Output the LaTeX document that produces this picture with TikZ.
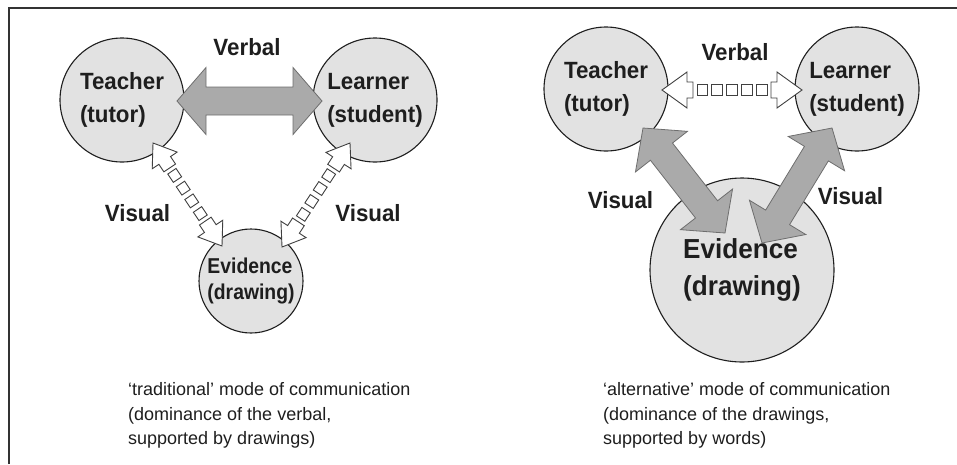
\documentclass[tikz,border=0pt]{standalone}
\usepackage{fontspec}
\setmainfont{Liberation Sans}
\newfontfamily\condsans[FakeStretch=0.95]{Liberation Sans}
\newfontfamily\condsansB[FakeStretch=0.9]{Liberation Sans}
\usetikzlibrary{calc}
\definecolor{circfill}{HTML}{E2E2E2}
\definecolor{arrfill}{HTML}{AAAAAA}
\definecolor{arrline}{HTML}{6E6E6E}
\definecolor{inkc}{HTML}{1E1E1E}
\definecolor{framec}{HTML}{333333}

\newcommand\arrowgeom[2]{%
  \pgfpointdiff{\pgfpointanchor{#1}{center}}{\pgfpointanchor{#2}{center}}%
  \pgfgetlastxy{\myDX}{\myDY}%
  \pgfmathsetmacro\myang{atan2(\myDY,\myDX)}%
  \pgfmathsetmacro\mylen{veclen(\myDX,\myDY)}%
}
% gray double block arrow: from, to, head length, head half-width, shaft half-width
\newcommand\grayarrow[5]{%
  \arrowgeom{#1}{#2}%
  \begin{scope}[shift={(#1)}, rotate=\myang]
    \draw[grayarr] (0,0) -- (#3,#4) -- (#3,#5) -- (\mylen-#3,#5) -- (\mylen-#3,#4)
      -- (\mylen,0) -- (\mylen-#3,-#4) -- (\mylen-#3,-#5) -- (#3,-#5) -- (#3,-#4) -- cycle;
  \end{scope}}
% hollow arrow with square shaft: from, to, hl, hw, stub half-width, stub length, n squares, square size
\newcommand\squarearrow[8]{%
  \arrowgeom{#1}{#2}%
  \begin{scope}[shift={(#1)}, rotate=\myang]
    \draw[hollow] (0,0) -- (#3,#4) -- (#3,#5) -- (#3+#6,#5) -- (#3+#6,-#5) -- (#3,-#5) -- (#3,-#4) -- cycle;
    \draw[hollow] (\mylen,0) -- (\mylen-#3,#4) -- (\mylen-#3,#5) -- (\mylen-#3-#6,#5)
      -- (\mylen-#3-#6,-#5) -- (\mylen-#3,-#5) -- (\mylen-#3,-#4) -- cycle;
    \pgfmathsetmacro\sqstart{#3+#6+4}%
    \pgfmathsetmacro\sqend{\mylen-#3-#6-4}%
    \pgfmathsetmacro\sqpitch{(\sqend-\sqstart-#8)/(#7-1)}%
    \foreach \i in {1,...,#7} {
      \draw[hollow] ({\sqstart+(\i-1)*\sqpitch},{-#8/2}) rectangle ++(#8,#8);
    }
  \end{scope}}

\tikzset{
  circ/.style={circle, draw=inkc, line width=1.1pt, fill=circfill, inner sep=0pt,
    align=left, text=inkc, font=\condsans\bfseries\fontsize{23.5}{33}\selectfont},
  lbl/.style={anchor=base, text=inkc, inner sep=0pt, font=\condsans\bfseries\fontsize{23.5}{27}\selectfont},
  captxt/.style={anchor=north west, align=left, inner sep=0pt, text=inkc,
    font=\fontsize{18}{24.5}\selectfont},
  grayarr/.style={fill=arrfill, draw=arrline, line width=0.8pt, line join=miter},
  hollow/.style={fill=white, draw=inkc!85, line width=0.9pt, line join=miter},
}

\begin{document}
\begin{tikzpicture}[x=1pt, y=-1pt]
\useasboundingbox (0,0) rectangle (957,464);
\draw[framec, line width=1.5pt] (9,464) -- (9,8) -- (957,8);

% ---------- left panel ----------
\node[circ, minimum size=124pt] (T1) at (122,100) {Teacher\\(tutor)};
\node[circ, minimum size=124pt] (L1) at (375,100) {Learner\\(student)};
\node[circ, minimum size=104pt, font=\condsansB\bfseries\fontsize{21.5}{26}\selectfont] (E1) at (251,281) {Evidence\\(drawing)};

\coordinate (v1a) at (177,101);
\coordinate (v1b) at (322,101);
\grayarrow{v1a}{v1b}{29}{33.5}{14}
\coordinate (tl1a) at (153,143);
\coordinate (tl1b) at (222,246);
\squarearrow{tl1a}{tl1b}{21}{15}{7}{9}{4}{10}
\coordinate (tr1a) at (350,143);
\coordinate (tr1b) at (282,247);
\squarearrow{tr1a}{tr1b}{21}{15}{7}{9}{4}{10}

\node[lbl] (verb1) at (247,55) {Verbal};
\node[lbl] (vis1l) at (137.5,221) {Visual};
\node[lbl] (vis1r) at (368,221) {Visual};

\node[captxt] (cap1) at (128,382.5) {`traditional' mode of communication\\(dominance of the verbal,\\supported by drawings)};

% ---------- right panel ----------
\node[circ, minimum size=124pt] (T2) at (606,89) {Teacher\\(tutor)};
\node[circ, minimum size=124pt] (L2) at (857,89) {Learner\\(student)};
\node[circ, minimum size=184pt, font=\condsans\bfseries\fontsize{27.5}{37}\selectfont] (E2) at (742,270) {Evidence\\(drawing)};

\coordinate (v2a) at (662,90);
\coordinate (v2b) at (802,90);
\squarearrow{v2a}{v2b}{25}{18}{8}{6}{5}{10.5}
\coordinate (tl2a) at (643,128);
\coordinate (tl2b) at (725,233);
\grayarrow{tl2a}{tl2b}{30}{33}{14}
\coordinate (tr2a) at (832,128);
\coordinate (tr2b) at (762,243);
\grayarrow{tr2a}{tr2b}{30}{33}{14}

\node[lbl] (verb2) at (735,60) {Verbal};
\node[lbl] (vis2l) at (620.5,208) {Visual};
\node[lbl] (vis2r) at (850.5,204) {Visual};

\node[captxt] (cap2) at (603,382.5) {`alternative' mode of communication\\(dominance of the drawings,\\supported by words)};
\end{tikzpicture}
\end{document}
